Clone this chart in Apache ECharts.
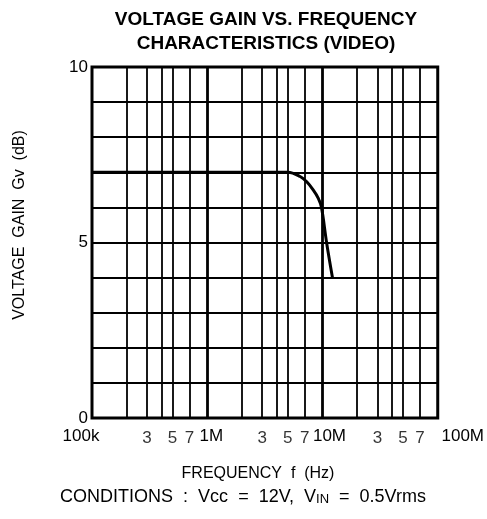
<!DOCTYPE html>
<html>
<head>
<meta charset="utf-8">
<script src="https://cdn.jsdelivr.net/npm/echarts@6/dist/echarts.min.js"></script>
<style>html,body{margin:0;padding:0;background:#fff;}#c{width:487px;height:519px;}</style>
</head>
<body>
<div id="c"></div>
<script>
// Curve: frequency (Hz) vs voltage gain (dB)
var freqHz = [1e5, 5.0e6, 6.4e6, 7.3e6, 8.3e6, 9.2e6, 9.8e6, 10.85e6, 12.2e6];
var gainDb = [7.0, 7.0, 6.88, 6.73, 6.5, 6.26, 6.0, 5.0, 4.0];
// Log grid lines (2,3,4,5,7 per decade, heavy at decades)
var minorGrid = [2e5,3e5,4e5,5e5,7e5, 2e6,3e6,4e6,5e6,7e6, 2e7,3e7,4e7,5e7,7e7];
var decadeGrid = [1e6, 1e7];
// Tick labels
var decadeTicks = [1e5, 1e6, 1e7, 1e8];
var decadeLabels = ['100k', '1M', '10M', '100M'];
var subTicks = [3e5, 5e5, 7e5, 3e6, 5e6, 7e6, 3e7, 5e7, 7e7];
var subLabels = ['3','5','7','3','5','7','3','5','7'];
var yTicks = [0, 5, 10];

var FONT = 'Liberation Sans';
var chart = echarts.init(document.getElementById('c'), null, {renderer: 'canvas'});

var curve = freqHz.map(function (f, i) { return [f, gainDb[i]]; });
var lineData = [];
minorGrid.forEach(function (v) { lineData.push({xAxis: v, lineStyle: {width: 1.8}}); });
decadeGrid.forEach(function (v) { lineData.push({xAxis: v, lineStyle: {width: 2.8}}); });
var subLabelData = subTicks.map(function (v, i) { return {value: [v, 0], name: subLabels[i]}; });

var decadeRich = {
  a: {padding: [0, 22, 0, 0]},
  b: {padding: [0, 0, 0, 8]},
  c: {padding: [0, 0, 0, 14]},
  d: {padding: [0, 0, 0, 50]}
};

chart.setOption({
  animation: false,
  backgroundColor: '#fff',
  textStyle: {fontFamily: FONT, color: '#000'},
  title: {
    text: 'VOLTAGE GAIN VS. FREQUENCY\nCHARACTERISTICS (VIDEO)',
    left: 261, top: 3, textAlign: 'center',
    textStyle: {fontFamily: FONT, fontWeight: 'bold', fontSize: 19, lineHeight: 24, color: '#000'}
  },
  grid: {left: 92, right: 49, top: 67, bottom: 101, show: true, borderColor: '#000', borderWidth: 3, backgroundColor: 'transparent', z: 5},
  xAxis: {
    type: 'log', logBase: 10, min: 1e5, max: 1e8,
    axisLine: {show: false}, axisTick: {show: false}, splitLine: {show: false},
    axisLabel: {
      fontFamily: FONT, fontSize: 17, color: '#000', margin: 10,
      showMinLabel: true, showMaxLabel: true,
      formatter: function (v) {
        var i = decadeTicks.findIndex(function (t) { return Math.abs(Math.log10(t) - Math.log10(v)) < 1e-6; });
        if (i < 0) return '';
        var k = ['a', 'b', 'c', 'd'][i];
        return '{' + k + '|' + decadeLabels[i] + '}';
      },
      rich: decadeRich
    }
  },
  yAxis: {
    type: 'value', min: 0, max: 10, interval: 1,
    axisLine: {show: false}, axisTick: {show: false},
    splitLine: {show: true, lineStyle: {color: '#000', width: 1.9}},
    axisLabel: {
      fontFamily: FONT, fontSize: 17, color: '#000', margin: 4,
      formatter: function (v) { return yTicks.indexOf(v) >= 0 ? String(v) : ''; }
    }
  },
  graphic: [
    {type: 'text', x: 258, y: 474, style: {text: 'FREQUENCY  f  (Hz)', font: '16px "Liberation Sans"', fill: '#000', textAlign: 'center', textVerticalAlign: 'middle'}},
    {type: 'text', x: 243, y: 497, style: {
      text: 'CONDITIONS  :  Vcc  =  12V,  V{s|IN}  =  0.5Vrms',
      font: '18px "Liberation Sans"', fill: '#000', textAlign: 'center', textVerticalAlign: 'middle',
      rich: {s: {fontSize: 13, fontFamily: FONT, padding: [4, 0, 0, 0]}}
    }},
    {type: 'text', x: 20, y: 225, rotation: Math.PI / 2, originX: 0, originY: 0, style: {
      text: 'VOLTAGE  GAIN  Gv  (dB)', font: '16px "Liberation Sans"', fill: '#000',
      textAlign: 'center', textVerticalAlign: 'middle'
    }}
  ],
  series: [
    {
      type: 'line', data: curve, smooth: 0.35, showSymbol: false, symbol: 'none',
      lineStyle: {color: '#000', width: 3}, z: 10,
      markLine: {
        silent: true, symbol: ['none', 'none'], label: {show: false},
        lineStyle: {color: '#000', type: 'solid'},
        data: lineData, animation: false
      }
    },
    {
      type: 'scatter', data: subLabelData, symbolSize: 0, silent: true, clip: false,
      label: {
        show: true, position: 'bottom', distance: 12, formatter: function (p) { return p.name; },
        fontFamily: FONT, fontSize: 17, color: '#000'
      }
    }
  ]
});
</script>
</body>
</html>
